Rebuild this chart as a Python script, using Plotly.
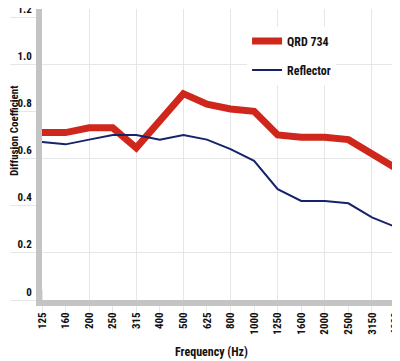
import plotly.graph_objects as go

frequencies = ["125", "160", "200", "250", "315", "400", "500", "625", "800",
               "1000", "1250", "1600", "2000", "2500", "3150", "4000"]
qrd734 = [0.71, 0.71, 0.73, 0.73, 0.645, 0.76, 0.875, 0.83, 0.81, 0.80,
          0.70, 0.69, 0.69, 0.68, 0.62, 0.56]
reflector = [0.67, 0.66, 0.68, 0.70, 0.70, 0.68, 0.70, 0.68, 0.64, 0.59,
             0.47, 0.42, 0.42, 0.41, 0.35, 0.31]
y_ticks = [0, 0.2, 0.4, 0.6, 0.8, 1.0, 1.2]
y_ticktext = ["0", "0.2", "0.4", "0.6", "0.8", "1.0", "1.2"]

idx = list(range(len(frequencies)))
FONT = "Roboto Condensed, Liberation Sans Narrow, Liberation Sans, sans-serif"
GRID = "#e6e6e6"
AXIS = "#c4c4c4"

fig = go.Figure()
fig.add_trace(go.Scatter(x=idx, y=qrd734, mode="lines", name="QRD 734",
                         line=dict(color="#d0271d", width=7),
                         legendgroup="a"))
fig.add_trace(go.Scatter(x=idx, y=reflector, mode="lines", name="Reflector",
                         line=dict(color="#16226a", width=2),
                         legendgroup="b"))

xr = [0, 15.106]
yr = [0, 1.234]

# the page body has an 8px margin, so the figure is 8px smaller than the window
fig.update_layout(
    width=392, height=353, autosize=False,
    margin=dict(l=34, r=2, t=1, b=61),
    paper_bgcolor="white", plot_bgcolor="white",
    font=dict(family=FONT, size=11, color="#111"),
    showlegend=True,
    legend=dict(x=0.576, y=0.9395, xanchor="left", yanchor="top",
                bgcolor="white", borderwidth=0, tracegroupgap=10,
                font=dict(family=FONT, size=12, color="#111", weight="bold")),
    xaxis=dict(range=xr, tickmode="array", tickvals=idx, ticktext=frequencies,
               tickangle=-90, ticks="outside", ticklen=24, tickcolor=GRID,
               showgrid=False, zeroline=False, automargin=False,
               showline=True, linewidth=6, linecolor=AXIS,
               layer="above traces",
               ticklabelstandoff=-22, ticklabeloverflow="allow",
               minor=dict(tick0=0, dtick=2, showgrid=True, gridcolor=GRID,
                          ticks="inside", ticklen=10, tickcolor=GRID),
               tickfont=dict(family=FONT, size=11, weight="bold", color="#111")),
    yaxis=dict(range=yr, tickmode="array", tickvals=y_ticks, ticktext=y_ticktext,
               ticks="outside", ticklen=26, tickcolor=GRID, showgrid=False,
               zeroline=False, automargin=False,
               showline=True, linewidth=6, linecolor=AXIS,
               layer="above traces",
               ticklabelstandoff=2, ticklabelposition="outside top",
               ticklabeloverflow="allow",
               minor=dict(tick0=0.2, dtick=0.4, showgrid=True, gridcolor=GRID,
                          ticks="inside", ticklen=9, tickcolor=GRID),
               tickfont=dict(family=FONT, size=11, weight="bold", color="#111")),
)

fig.add_annotation(text="<b>Diffusion Coefficient</b>", xref="paper", yref="paper",
                   x=-0.0787, y=0.584, textangle=-90, showarrow=False,
                   xanchor="center", yanchor="middle",
                   font=dict(family=FONT, size=11, color="#111"))
fig.add_annotation(text="<b>Frequency (Hz)</b>", xref="paper", yref="paper",
                   x=0.4775, y=-0.1787, showarrow=False,
                   xanchor="center", yanchor="middle",
                   font=dict(family=FONT, size=12, color="#111"))

fig.write_html("out.html")
